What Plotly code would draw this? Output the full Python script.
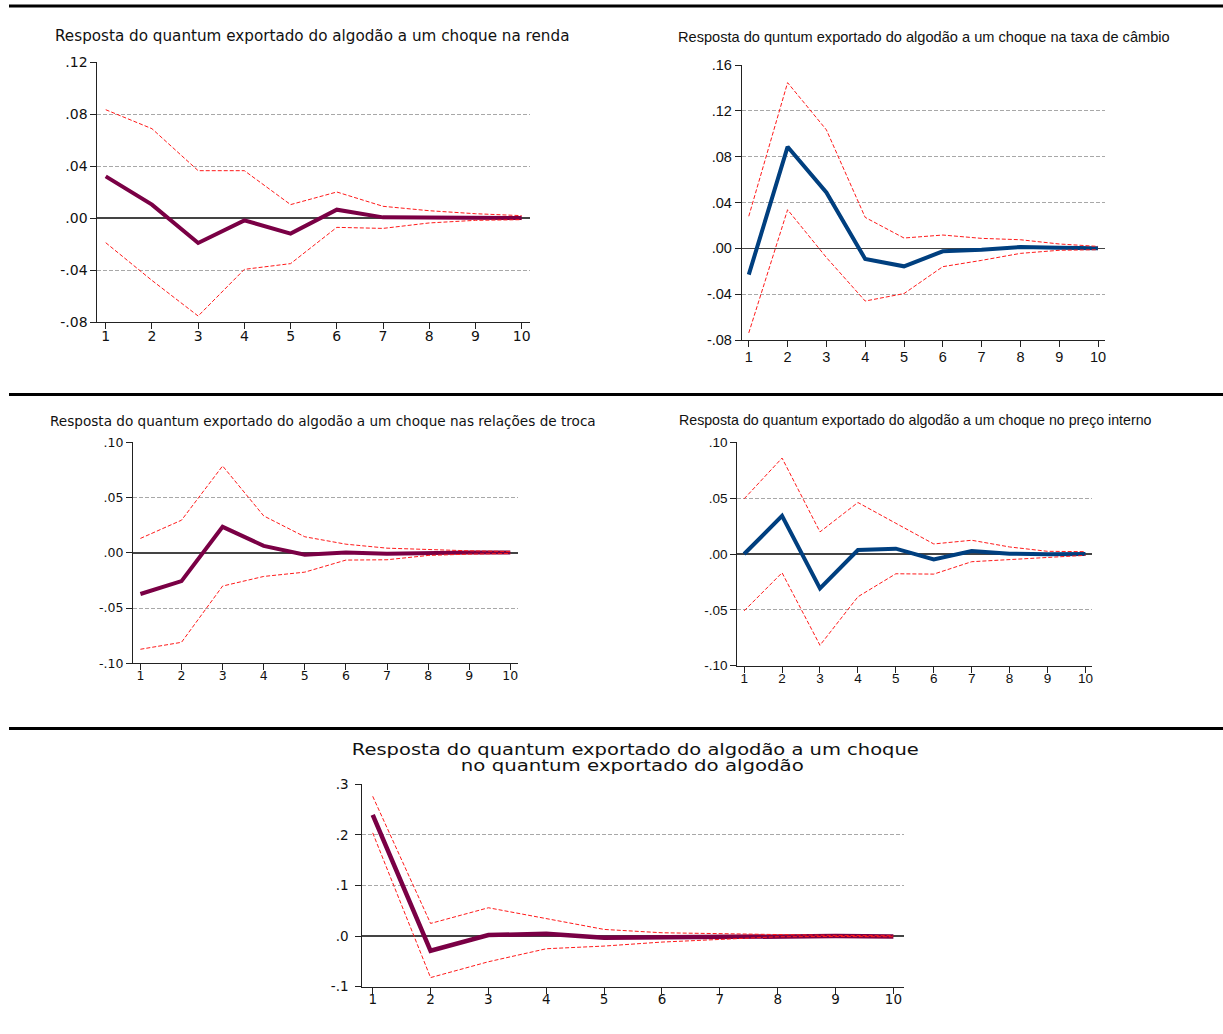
import plotly.graph_objects as go

W, H = 1223, 1034

periods = list(range(1, 11))
x_ticktext = [str(p) for p in periods]

# Panel 1: choque na renda
renda_resp = [0.0320, 0.0103, -0.0192, -0.0018, -0.0120, 0.0064, 0.0005, 0.0005, 0.0003, 0.0000]
renda_upper = [0.0833, 0.0687, 0.0364, 0.0364, 0.0103, 0.0200, 0.0090, 0.0056, 0.0033, 0.0018]
renda_lower = [-0.0190, -0.0480, -0.0754, -0.0395, -0.0351, -0.0072, -0.0080, -0.0038, -0.0018, -0.0013]

# Panel 2: choque na taxa de câmbio
cambio_resp = [-0.0230, 0.0886, 0.0488, -0.0093, -0.0157, -0.0026, -0.0012, 0.0012, 0.0006, 0.0000]
cambio_upper = [0.0280, 0.1446, 0.1034, 0.0270, 0.0090, 0.0116, 0.0087, 0.0075, 0.0038, 0.0017]
cambio_lower = [-0.0738, 0.0337, -0.0080, -0.0460, -0.0395, -0.0160, -0.0105, -0.0044, -0.0017, -0.0012]

# Panel 3: choque nas relações de troca
troca_resp = [-0.0373, -0.0256, 0.0235, 0.0063, -0.0018, 0.0003, -0.0009, 0.0000, 0.0003, 0.0003]
troca_upper = [0.0130, 0.0295, 0.0786, 0.0334, 0.0145, 0.0078, 0.0042, 0.0027, 0.0018, 0.0012]
troca_lower = [-0.0873, -0.0810, -0.0301, -0.0214, -0.0175, -0.0066, -0.0063, -0.0024, -0.0012, -0.0006]

# Panel 4: choque no preço interno
preco_resp = [0.0000, 0.0341, -0.0308, 0.0036, 0.0048, -0.0048, 0.0027, 0.0003, -0.0003, 0.0000]
preco_upper = [0.0494, 0.0859, 0.0198, 0.0461, 0.0275, 0.0090, 0.0123, 0.0063, 0.0024, 0.0021]
preco_lower = [-0.0509, -0.0168, -0.0817, -0.0383, -0.0177, -0.0180, -0.0069, -0.0051, -0.0036, -0.0012]

# Panel 5: choque no quantum exportado
quantum_resp = [0.2395, -0.0290, 0.0020, 0.0046, -0.0033, -0.0020, -0.0007, 0.0007, 0.0000, -0.0007]
quantum_upper = [0.2763, 0.0250, 0.0560, 0.0350, 0.0132, 0.0066, 0.0046, 0.0033, 0.0013, 0.0007]
quantum_lower = [0.2040, -0.0820, -0.0507, -0.0250, -0.0197, -0.0118, -0.0066, -0.0013, -0.0007, -0.0013]

# Y tick values / labels
y1_vals = [-0.08, -0.04, 0.0, 0.04, 0.08, 0.12]
y1_text = ["-.08", "-.04", ".00", ".04", ".08", ".12"]
y2_vals = [-0.08, -0.04, 0.0, 0.04, 0.08, 0.12, 0.16]
y2_text = ["-.08", "-.04", ".00", ".04", ".08", ".12", ".16"]
y3_vals = [-0.10, -0.05, 0.0, 0.05, 0.10]
y3_text = ["-.10", "-.05", ".00", ".05", ".10"]
y5_vals = [-0.1, 0.0, 0.1, 0.2, 0.3]
y5_text = ["-.1", ".0", ".1", ".2", ".3"]

titles = [
    "Resposta do quantum exportado do algodão a um choque na renda",
    "Resposta do quntum exportado do algodão a um choque na taxa de câmbio",
    "Resposta do quantum exportado do algodão a um choque nas relações de troca",
    "Resposta do quantum exportado do algodão a um choque no preço interno",
    "Resposta do quantum exportado do algodão a um choque",
    "no quantum exportado do algodão",
]

MAROON = "#7a0045"
BLUE = "#003f7f"
RED = "#ff1a1a"
GRID = "#a8a8a8"

# pixel boxes: (left, right, top, bottom)
panels = [
    dict(box=(97.4, 530, 62, 322), resp=renda_resp, up=renda_upper, lo=renda_lower,
         color=MAROON, yr=[-0.08, 0.12], yv=y1_vals, yt=y1_text, grid=[-0.04, 0.04, 0.08],
         tff="DejaVu Sans", tfs=14, lw=4, xso=-5, yso=0),
    dict(box=(741.8, 1105, 65, 340), resp=cambio_resp, up=cambio_upper, lo=cambio_lower,
         color=BLUE, yr=[-0.08, 0.16], yv=y2_vals, yt=y2_text, grid=[-0.04, 0.04, 0.08, 0.12],
         tff="Liberation Sans", tfs=14.5, lw=4, xso=-2, yso=0),
    dict(box=(133, 517.7, 442.3, 663.3), resp=troca_resp, up=troca_upper, lo=troca_lower,
         color=MAROON, yr=[-0.10, 0.10], yv=y3_vals, yt=y3_text, grid=[-0.05, 0.05],
         tff="DejaVu Sans", tfs=12.5, lw=4, xso=-5, yso=0),
    dict(box=(737.3, 1092.3, 442.3, 665.7), resp=preco_resp, up=preco_upper, lo=preco_lower,
         color=BLUE, yr=[-0.10, 0.10], yv=y3_vals, yt=y3_text, grid=[-0.05, 0.05],
         tff="Liberation Sans", tfs=13.5, lw=4, xso=-6, yso=0),
    dict(box=(362.3, 903.8, 784.3, 986.7), resp=quantum_resp, up=quantum_upper, lo=quantum_lower,
         color=MAROON, yr=[-0.1, 0.3], yv=y5_vals, yt=y5_text, grid=[0.1, 0.2],
         tff="DejaVu Sans", tfs=13.5, lw=4.5, xso=-6, yso=4),
]

fig = go.Figure()
layout = dict(
    width=W, height=H, margin=dict(l=0, r=0, t=0, b=0, pad=0, autoexpand=False),
    autosize=False,
    paper_bgcolor="white", plot_bgcolor="white", showlegend=False,
    font=dict(family="Liberation Sans, Arial, sans-serif", color="#111"),
)

for i, p in enumerate(panels, start=1):
    xa = "x" if i == 1 else f"x{i}"
    ya = "y" if i == 1 else f"y{i}"
    l, r, t, b = p["box"]
    fig.add_trace(go.Scatter(x=periods, y=p["resp"], mode="lines", xaxis=xa, yaxis=ya,
                             line=dict(color=p["color"], width=p["lw"]), hoverinfo="skip"))
    for band in (p["up"], p["lo"]):
        fig.add_trace(go.Scatter(x=periods, y=band, mode="lines", xaxis=xa, yaxis=ya,
                                 line=dict(color=RED, width=1, dash="4px,2px"), hoverinfo="skip"))
    xkey = "xaxis" if i == 1 else f"xaxis{i}"
    ykey = "yaxis" if i == 1 else f"yaxis{i}"
    tickfont = dict(family=p["tff"], size=p["tfs"], color="#111")
    layout[xkey] = dict(
        domain=[l / W, r / W], anchor=ya, range=[0.82, 10.18],
        tickmode="array", tickvals=periods, ticktext=x_ticktext,
        ticks="outside", ticklen=6, tickwidth=1, tickcolor="#222",
        showline=True, linecolor="#222", linewidth=1, showgrid=False, zeroline=False,
        tickfont=tickfont, fixedrange=True, automargin=False,
        ticklabelstandoff=p["xso"],
    )
    layout[ykey] = dict(
        domain=[1 - b / H, 1 - t / H], anchor=xa, range=p["yr"],
        tickmode="array", tickvals=p["yv"], ticktext=p["yt"],
        ticks="outside", ticklen=6, tickwidth=1, tickcolor="#222",
        showline=True, linecolor="#222", linewidth=1, showgrid=False,
        zeroline=True, zerolinecolor="#444", zerolinewidth=1.5,
        minor=dict(tickmode="array", tickvals=p["grid"], showgrid=True, gridcolor=GRID,
                   griddash="4px,2px", gridwidth=1, ticks=""),
        tickfont=tickfont, fixedrange=True, automargin=False,
        ticklabelstandoff=p["yso"],
    )

annotations = []
# (text, x_px, y_px, xanchor, family, size)
title_specs = [
    (titles[0], 53, 36, "left", "DejaVu Sans", 15.2),
    (titles[1], 676, 37, "left", "Liberation Sans", 14.6),
    (titles[2], 48, 421, "left", "DejaVu Sans", 13.6),
    (titles[3], 677, 420, "left", "Liberation Sans", 14.2),
    (titles[4], 635, 750, "center", "DejaVu Sans", 15),
    (titles[5], 632, 766, "center", "DejaVu Sans", 15),
]
for txt, px, py, anchor, fam, fs in title_specs:
    annotations.append(dict(text=txt, x=px / W, y=1 - py / H, xref="paper", yref="paper",
                            xanchor=anchor, yanchor="middle", align="center", showarrow=False,
                            font=dict(family=fam, size=fs, color="#111")))
layout["annotations"] = annotations

shapes = []
for sy in (6, 394.5, 728.5):
    shapes.append(dict(type="line", xref="paper", yref="paper", x0=9 / W, x1=1.0,
                       y0=1 - sy / H, y1=1 - sy / H, line=dict(color="black", width=3)))
layout["shapes"] = shapes

fig.update_layout(**layout)

# widen the bottom title lines like in the reference
post = """
document.body.style.margin='0px';
document.body.style.overflow='hidden';
var gd = document.getElementById('{plot_id}');
gd.style.position='absolute'; gd.style.left='0px'; gd.style.top='0px';
var widths = {};
widths[%s] = 567;
widths[%s] = 343;
gd.querySelectorAll('text.annotation-text').forEach(function(t){
  var w = widths[t.textContent];
  if (w) { t.setAttribute('textLength', w); t.setAttribute('lengthAdjust', 'spacingAndGlyphs'); }
});
""" % (repr(titles[4]), repr(titles[5]))

fig.write_html("out.html", config={"displayModeBar": False, "staticPlot": True},
               post_script=post)
